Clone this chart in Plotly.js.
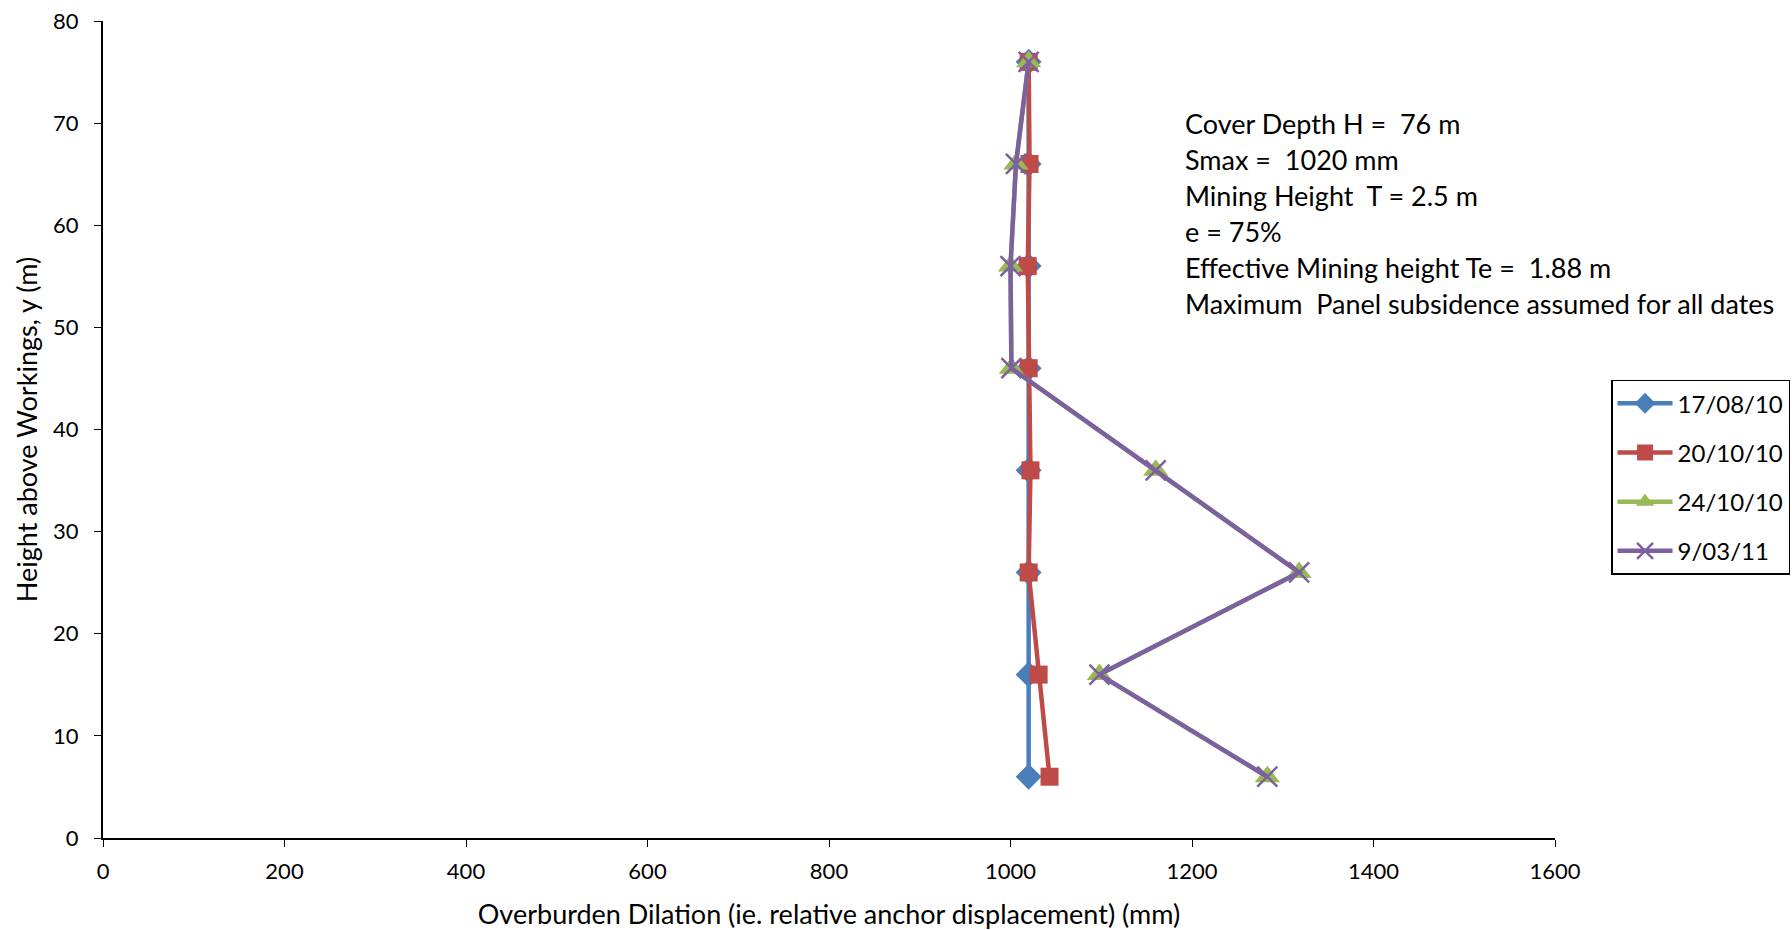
<!DOCTYPE html>
<html>
<head>
<meta charset="utf-8">
<script src="https://cdn.plot.ly/plotly-3.0.1.min.js"></script>
<style>html,body{margin:0;padding:0;background:#fff;}#chart{width:1792px;height:930px;}</style>
</head>
<body>
<div id="chart"></div>
<script>
// Data
const heights = [6, 16, 26, 36, 46, 56, 66, 76];
const seriesNames = ["17/08/10", "20/10/10", "24/10/10", "9/03/11"];
const dil_170810 = [1020, 1020, 1020, 1020, 1020, 1020, 1020, 1020];
const dil_201010 = [1043, 1031, 1020, 1022, 1020, 1019, 1021, 1020];
const dil_241010 = [1283, 1098, 1318, 1160, 1001, 1000, 1006, 1020];
const dil_090311 = [1283, 1098, 1318, 1160, 1001, 1000, 1006, 1020];
const noteLines = [
  "Cover Depth H =  76 m",
  "Smax =  1020 mm",
  "Mining Height  T = 2.5 m",
  "e = 75%",
  "Effective Mining height Te =  1.88 m",
  "Maximum  Panel subsidence assumed for all dates"
];
const xTitle = "Overburden Dilation (ie. relative anchor displacement) (mm)";
const yTitle = "Height above Workings, y (m)";

const FONT = "Lato, 'Open Sans', sans-serif";
const seriesValues = [dil_170810, dil_201010, dil_241010, dil_090311];
const styles = [
  {color: "#4A7EBB", symbol: "diamond", size: 20, lw: 0},
  {color: "#BE4B48", symbol: "square", size: 18, lw: 0},
  {color: "#98B954", symbol: "triangle-up", size: 22, lw: 0},
  {color: "#7D60A0", symbol: "x-thin-open", size: 20, lw: 2.5}
];

const traces = seriesValues.map((vals, i) => {
  const s = styles[i];
  return {
    type: "scatter",
    mode: "lines+markers",
    x: vals,
    y: heights,
    name: seriesNames[i],
    legendgroup: "g" + i,
    line: {color: s.color, width: 4.5},
    marker: {
      symbol: s.symbol,
      size: s.size,
      color: s.color,
      line: {color: s.color, width: s.lw}
    },
    cliponaxis: false
  };
});

const lineGap = 0.0441; // paper units between note lines
const annotations = noteLines.map((t, i) => ({
  xref: "x", yref: "paper",
  x: 1190, y: 0.875 - i * lineGap,
  xanchor: "left", yanchor: "middle",
  text: t, showarrow: false,
  font: {family: FONT, size: 27, color: "#000"}
}));

const layout = {
  width: 1792, height: 930,
  paper_bgcolor: "#fff", plot_bgcolor: "#fff",
  margin: {l: 103, r: 237, t: 21, b: 92, autoexpand: false},
  font: {family: FONT, color: "#000"},
  showlegend: true,
  legend: {
    x: 1.0386, y: 0.561, xanchor: "left", yanchor: "top",
    bordercolor: "#000", borderwidth: 1.5,
    font: {family: FONT, size: 24, color: "#000"},
    tracegroupgap: 15,
    traceorder: "grouped",
    itemwidth: 55,
    bgcolor: "#fff"
  },
  xaxis: {
    range: [0, 1600], dtick: 200, tick0: 0,
    showgrid: false, zeroline: false,
    showline: true, linecolor: "#000", linewidth: 2,
    ticks: "outside", ticklen: 7, tickwidth: 1, tickcolor: "#000",
    ticklabelstandoff: 6,
    tickfont: {family: FONT, size: 22, color: "#000"},
    title: {text: xTitle, font: {family: FONT, size: 27, color: "#000"}, standoff: 22},
    fixedrange: true
  },
  yaxis: {
    range: [0, 80], dtick: 10, tick0: 0,
    showgrid: false, zeroline: false,
    showline: true, linecolor: "#000", linewidth: 2,
    ticks: "outside", ticklen: 7, tickwidth: 1, tickcolor: "#000",
    ticklabelstandoff: 11,
    tickfont: {family: FONT, size: 22, color: "#000"},
    title: {text: yTitle, font: {family: FONT, size: 27, color: "#000"}, standoff: 8},
    fixedrange: true
  },
  annotations: annotations
};

Plotly.newPlot("chart", traces, layout, {staticPlot: true, displayModeBar: false});
</script>
</body>
</html>
